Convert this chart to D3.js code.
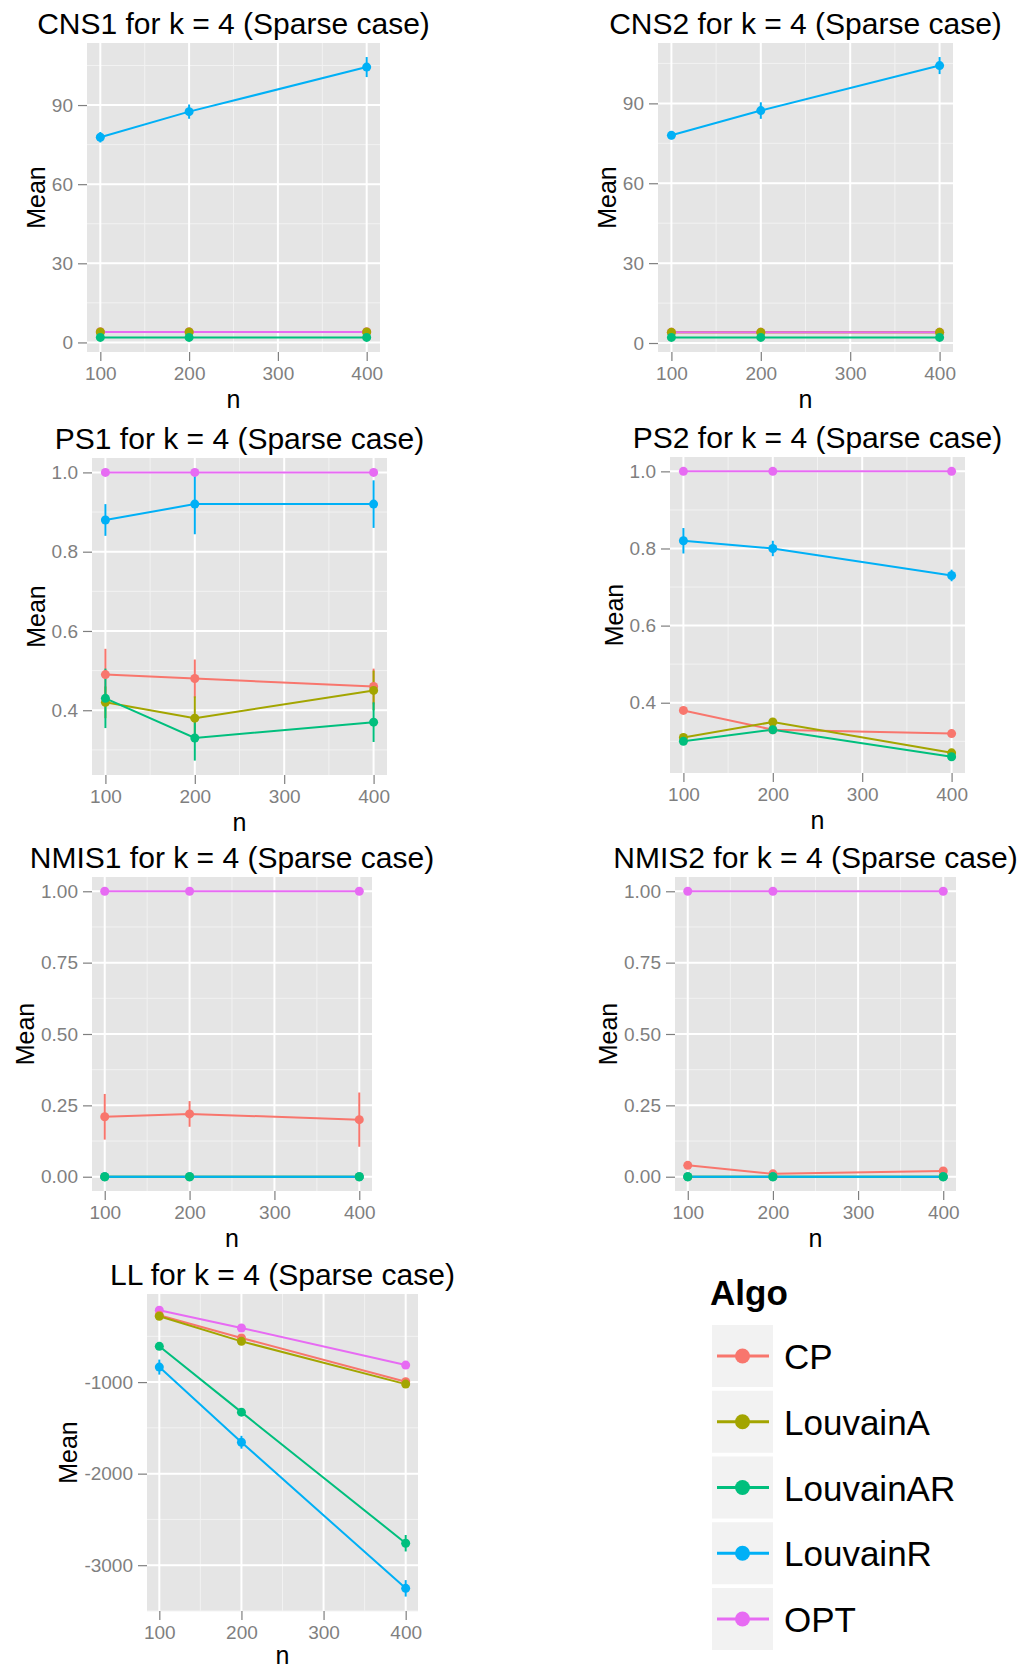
<!DOCTYPE html>
<html lang="en">
<head>
    <meta charset="UTF-8">
    <title>k = 4 (Sparse case)</title>
    <style>
        body { margin: 0; background: #fff; }
        svg { font-family: "Liberation Sans", Arial, sans-serif; }
        .tick text { fill: #7f7f7f; }
        .tick line { stroke: #7f7f7f; stroke-width: 1.2; }
    </style>
</head>
<body>
    <div id="wrapper"></div>

    <script src="https://cdn.jsdelivr.net/npm/d3@7"></script>
    <script>
        // sample sizes and algorithms
        const nValues = [100, 200, 400];
        const algos = ['CP', 'LouvainA', 'LouvainAR', 'LouvainR', 'OPT'];
        const nTicks = [100, 200, 300, 400];

        // y tick labels per metric
        const cnsTicks = [0, 30, 60, 90];
        const psTicks = [0.4, 0.6, 0.8, 1.0];
        const nmisTicks = [0, 0.25, 0.5, 0.75, 1.0];
        const llTicks = [-3000, -2000, -1000];

        // means and error half-widths, one row per algo (same order as algos)
        const cns1Mean = [[4, 4, 4], [4, 4, 4], [1.9, 1.9, 1.9], [77.8, 87.5, 104.4], [4, 4, 4]];
        const cns1Err = [[0.3, 0.3, 0.3], [0.3, 0.3, 0.3], [0.2, 0.2, 0.2], [2.0, 2.7, 3.8], [0, 0, 0]];

        const cns2Mean = [[4, 4, 4], [4, 4, 4], [2.1, 2.1, 2.1], [78.0, 87.3, 104.2], [4, 4, 4]];
        const cns2Err = [[0.3, 0.3, 0.3], [0.3, 0.3, 0.3], [0.2, 0.2, 0.2], [1.5, 3.1, 3.2], [0, 0, 0]];

        const ps1Mean = [[0.49, 0.48, 0.46], [0.42, 0.38, 0.45], [0.43, 0.33, 0.37], [0.88, 0.92, 0.92], [1, 1, 1]];
        const ps1Err = [[0.065, 0.048, 0.045], [0.04, 0.055, 0.05], [0.075, 0.057, 0.05], [0.04, 0.076, 0.06], [0, 0, 0]];

        const ps2Mean = [[0.38, 0.33, 0.32], [0.31, 0.35, 0.27], [0.30, 0.33, 0.26], [0.82, 0.80, 0.73], [1, 1, 1]];
        const ps2Err = [[0.005, 0.005, 0.005], [0.005, 0.005, 0.005], [0.005, 0.005, 0.005], [0.033, 0.02, 0.015], [0, 0, 0]];

        const nmis1Mean = [[0.21, 0.22, 0.20], [0, 0, 0], [0, 0, 0], [0, 0, 0], [1, 1, 1]];
        const nmis1Err = [[0.08, 0.045, 0.095], [0, 0, 0], [0, 0, 0], [0, 0, 0], [0, 0, 0]];

        const nmis2Mean = [[0.04, 0.01, 0.02], [0, 0, 0], [0, 0, 0], [0, 0, 0], [1, 1, 1]];
        const nmis2Err = [[0.005, 0.005, 0.005], [0, 0, 0], [0, 0, 0], [0, 0, 0], [0, 0, 0]];

        const llMean = [[-270, -518, -996], [-281, -555, -1022], [-609, -1328, -2760], [-836, -1657, -3253], [-215, -409, -814]];
        const llErr = [[20, 20, 20], [20, 20, 20], [20, 30, 90], [82, 70, 90], [20, 20, 20]];

        const colors = ['#F8766D', '#A3A500', '#00BF7D', '#00B0F6', '#E76BF3'];
        // points/errorbars drawn in this group order (lines use algos order)
        const pointOrder = [4, 0, 1, 3, 2];

        const svg = d3.select('#wrapper').append('svg')
            .attr('width', 1033)
            .attr('height', 1670);

        // plain hyphen minus like R does
        const intFmt = d => String(Math.round(d));

        const panels = [
            { name: 'CNS1', mean: cns1Mean, err: cns1Err, ticks: cnsTicks, fmt: intFmt, box: [87, 380, 43, 352] },
            { name: 'CNS2', mean: cns2Mean, err: cns2Err, ticks: cnsTicks, fmt: intFmt, box: [658, 953, 43, 352] },
            { name: 'PS1', mean: ps1Mean, err: ps1Err, ticks: psTicks, fmt: d3.format('.1f'), box: [92, 387, 458, 775] },
            { name: 'PS2', mean: ps2Mean, err: ps2Err, ticks: psTicks, fmt: d3.format('.1f'), box: [670, 965, 457, 773] },
            { name: 'NMIS1', mean: nmis1Mean, err: nmis1Err, ticks: nmisTicks, fmt: d3.format('.2f'), box: [92, 372, 877, 1191] },
            { name: 'NMIS2', mean: nmis2Mean, err: nmis2Err, ticks: nmisTicks, fmt: d3.format('.2f'), box: [675, 956, 877, 1191] },
            { name: 'LL', mean: llMean, err: llErr, ticks: llTicks, fmt: intFmt, box: [147, 418, 1294, 1611] }
        ];

        function drawPanel(p) {
            const [x0, x1, y0, y1] = p.box;
            const g = svg.append('g');

            // ggplot style 5% expansion
            const xs = d3.scaleLinear().domain([85, 415]).range([x0, x1]);
            let lo = d3.min(p.mean.flatMap((row, i) => row.map((v, j) => v - p.err[i][j])));
            let hi = d3.max(p.mean.flatMap((row, i) => row.map((v, j) => v + p.err[i][j])));
            const pad = (hi - lo) * 0.05;
            const ys = d3.scaleLinear().domain([lo - pad, hi + pad]).range([y1, y0]);

            g.append('rect')
                .attr('x', x0).attr('y', y0)
                .attr('width', x1 - x0).attr('height', y1 - y0)
                .attr('fill', '#e5e5e5');

            // minor grid
            const step = p.ticks[1] - p.ticks[0];
            const yMinor = d3.range(p.ticks[0] - step / 2, hi + pad, step)
                .filter(v => v >= lo - pad && v <= hi + pad);
            const xMinor = [150, 250, 350];
            g.selectAll('.ymin').data(yMinor).join('line')
                .attr('x1', x0).attr('x2', x1)
                .attr('y1', d => ys(d)).attr('y2', d => ys(d))
                .attr('stroke', '#f2f2f2').attr('stroke-width', 1);
            g.selectAll('.xmin').data(xMinor).join('line')
                .attr('y1', y0).attr('y2', y1)
                .attr('x1', d => xs(d)).attr('x2', d => xs(d))
                .attr('stroke', '#f2f2f2').attr('stroke-width', 1);

            // major grid
            g.selectAll('.ymaj').data(p.ticks).join('line')
                .attr('x1', x0).attr('x2', x1)
                .attr('y1', d => ys(d)).attr('y2', d => ys(d))
                .attr('stroke', '#fff').attr('stroke-width', 2);
            g.selectAll('.xmaj').data(nTicks).join('line')
                .attr('y1', y0).attr('y2', y1)
                .attr('x1', d => xs(d)).attr('x2', d => xs(d))
                .attr('stroke', '#fff').attr('stroke-width', 2);

            // axes
            const yAxis = g.append('g')
                .attr('transform', `translate(${x0},0)`)
                .call(d3.axisLeft(ys).tickValues(p.ticks).tickFormat(p.fmt).tickSize(9).tickPadding(5))
                .attr('font-size', 19);
            yAxis.select('.domain').remove();

            const xAxis = g.append('g')
                .attr('transform', `translate(0,${y1})`)
                .call(d3.axisBottom(xs).tickValues(nTicks).tickFormat(intFmt).tickSize(9).tickPadding(6))
                .attr('font-size', 19);
            xAxis.select('.domain').remove();

            // series
            const line = d3.line()
                .x((d, j) => xs(nValues[j]))
                .y(d => ys(d));

            algos.forEach((a, i) => {
                g.append('path')
                    .attr('d', line(p.mean[i]))
                    .attr('fill', 'none')
                    .attr('stroke', colors[i])
                    .attr('stroke-width', 2);
            });

            pointOrder.forEach(i => {
                p.mean[i].forEach((v, j) => {
                    if (p.err[i][j] > 0) {
                        g.append('line')
                            .attr('x1', xs(nValues[j])).attr('x2', xs(nValues[j]))
                            .attr('y1', ys(v - p.err[i][j])).attr('y2', ys(v + p.err[i][j]))
                            .attr('stroke', colors[i])
                            .attr('stroke-width', 2);
                    }
                });
            });

            pointOrder.forEach(i => {
                g.selectAll(null).data(p.mean[i]).join('circle')
                    .attr('cx', (d, j) => xs(nValues[j]))
                    .attr('cy', d => ys(d))
                    .attr('r', 4.5)
                    .attr('fill', colors[i]);
            });

            // titles
            const cx = (x0 + x1) / 2;
            g.append('text')
                .attr('x', cx).attr('y', y0 - 9)
                .attr('text-anchor', 'middle')
                .attr('font-size', 30)
                .text(`${p.name} for k = 4 (Sparse case)`);

            g.append('text')
                .attr('x', cx).attr('y', Math.min(y1 + 56, 1664))
                .attr('text-anchor', 'middle')
                .attr('font-size', 25)
                .text('n');

            const bb = yAxis.node().getBBox();
            g.append('text')
                .attr('transform', `translate(${x0 + bb.x - 7},${(y0 + y1) / 2}) rotate(-90)`)
                .attr('text-anchor', 'middle')
                .attr('font-size', 25)
                .text('Mean');
        }

        panels.forEach(drawPanel);

        // legend
        const legend = svg.append('g');
        legend.append('text')
            .attr('x', 710).attr('y', 1305)
            .attr('font-size', 35)
            .attr('font-weight', 'bold')
            .text('Algo');

        algos.forEach((a, i) => {
            const ky = 1325 + i * 65.75;
            const cy = ky + 31;
            legend.append('rect')
                .attr('x', 712).attr('y', ky)
                .attr('width', 61).attr('height', 62)
                .attr('fill', '#f2f2f2');
            legend.append('line')
                .attr('x1', 717).attr('x2', 769)
                .attr('y1', cy).attr('y2', cy)
                .attr('stroke', colors[i])
                .attr('stroke-width', 3);
            legend.append('circle')
                .attr('cx', 742.5).attr('cy', cy)
                .attr('r', 7.5)
                .attr('fill', colors[i]);
            legend.append('text')
                .attr('x', 784).attr('y', cy + 13)
                .attr('font-size', 35)
                .text(a);
        });
    </script>
</body>
</html>
